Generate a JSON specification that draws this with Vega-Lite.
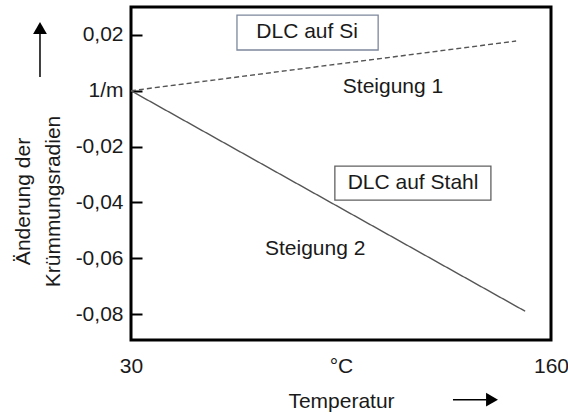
{
  "$schema": "https://vega.github.io/schema/vega-lite/v6.json",
  "width": 420,
  "height": 333,
  "autosize": {"type": "none"},
  "padding": {"left": 131, "top": 7, "right": 17, "bottom": 75},
  "background": "white",
  "config": {
    "view": {"stroke": "#000000", "strokeWidth": 3},
    "font": "Liberation Sans",
    "locale": {"number": {"decimal": ",", "thousands": ".", "grouping": [3], "currency": ["", " €"], "minus": "-"}}
  },
  "datasets": {
    "lines": [
      {"series": "DLC auf Si", "temp": 30, "value": 0},
      {"series": "DLC auf Si", "temp": 149.2, "value": 0.0178},
      {"series": "DLC auf Stahl", "temp": 30, "value": 0},
      {"series": "DLC auf Stahl", "temp": 152, "value": -0.079}
    ],
    "boxes": [
      {"label": "DLC auf Si", "temp": 62.8, "temp2": 106.5, "value": 0.0271, "value2": 0.0146},
      {"label": "DLC auf Stahl", "temp": 93.1, "temp2": 141.4, "value": -0.027, "value2": -0.0392}
    ],
    "labels": [
      {"label": "DLC auf Si", "temp": 84.5, "value": 0.021},
      {"label": "DLC auf Stahl", "temp": 117.3, "value": -0.0331},
      {"label": "Steigung 1", "temp": 111.1, "value": 0.00133},
      {"label": "Steigung 2", "temp": 87.0, "value": -0.0567}
    ]
  },
  "layer": [
    {
      "data": {"name": "lines"},
      "mark": {"type": "line", "color": "#555555", "strokeWidth": 1.4},
      "encoding": {
        "x": {
          "field": "temp", "type": "quantitative",
          "scale": {"domain": [30, 160], "nice": false, "zero": false},
          "axis": {
            "values": [30, 95, 160],
            "labelExpr": "datum.value === 95 ? '°C' : datum.label",
            "domain": false, "ticks": false, "tickSize": 0, "grid": false,
            "labelFlush": false, "labelOverlap": false,
            "labelPadding": 15, "labelFontSize": 21, "labelColor": "#1a1a1a", "labelFont": "Liberation Sans",
            "title": "Temperatur", "titleFontSize": 21, "titleFontWeight": "normal", "titleColor": "#1a1a1a", "titleFont": "Liberation Sans",
            "titleBaseline": "alphabetic", "titleX": 210, "titleY": 67, "titleAnchor": "middle"
          }
        },
        "y": {
          "field": "value", "type": "quantitative",
          "scale": {"domain": [-0.0893, 0.03], "nice": false, "zero": false},
          "axis": {
            "values": [0.02, 0, -0.02, -0.04, -0.06, -0.08],
            "format": ".2f",
            "labelExpr": "datum.value === 0 ? '1/m' : datum.label",
            "domain": false, "grid": false,
            "ticks": true, "tickSize": -11, "tickWidth": 2, "tickColor": "#000000",
            "labelOverlap": false, "labelPadding": 19, "labelFontSize": 21, "labelColor": "#1a1a1a", "labelFont": "Liberation Sans",
            "title": ["Änderung der", "Krümmungsradien"],
            "titleFontSize": 21, "titleFontWeight": "normal", "titleColor": "#1a1a1a", "titleFont": "Liberation Sans",
            "titleBaseline": "alphabetic", "titleLineHeight": 30, "titleAngle": -90,
            "titleX": -102, "titleY": 194, "titleAlign": "center"
          }
        },
        "strokeDash": {
          "field": "series", "type": "nominal",
          "scale": {"domain": ["DLC auf Si", "DLC auf Stahl"], "range": [[5, 3], [1, 0]]},
          "legend": null
        }
      }
    },
    {
      "data": {"name": "boxes"},
      "mark": {"type": "rect", "fill": "white", "strokeWidth": 1.3},
      "encoding": {
        "x": {"field": "temp", "type": "quantitative"},
        "x2": {"field": "temp2"},
        "y": {"field": "value", "type": "quantitative"},
        "y2": {"field": "value2"},
        "stroke": {
          "field": "label", "type": "nominal",
          "scale": {"domain": ["DLC auf Si", "DLC auf Stahl"], "range": ["#7d879c", "#606060"]},
          "legend": null
        }
      }
    },
    {
      "data": {"name": "labels"},
      "mark": {"type": "text", "fontSize": 21, "font": "Liberation Sans", "color": "#1a1a1a", "align": "center", "baseline": "middle"},
      "encoding": {
        "x": {"field": "temp", "type": "quantitative"},
        "y": {"field": "value", "type": "quantitative"},
        "text": {"field": "label"}
      }
    },
    {
      "data": {"values": [{"temp": 1.83, "value": 0.00491, "value2": 0.0212}]},
      "mark": {"type": "rule", "color": "#000000", "strokeWidth": 1.5, "clip": false},
      "encoding": {
        "x": {"field": "temp", "type": "quantitative"},
        "y": {"field": "value", "type": "quantitative"},
        "y2": {"field": "value2"}
      }
    },
    {
      "data": {"values": [{"temp": 1.83, "value": 0.02247}]},
      "mark": {"type": "point", "shape": "triangle-up", "filled": true, "color": "#000000", "opacity": 1, "size": 190, "clip": false},
      "encoding": {
        "x": {"field": "temp", "type": "quantitative"},
        "y": {"field": "value", "type": "quantitative"}
      }
    },
    {
      "data": {"values": [{"temp": 129.66, "temp2": 140.0, "value": -0.11068}]},
      "mark": {"type": "rule", "color": "#000000", "strokeWidth": 1.5, "clip": false},
      "encoding": {
        "x": {"field": "temp", "type": "quantitative"},
        "x2": {"field": "temp2"},
        "y": {"field": "value", "type": "quantitative"}
      }
    },
    {
      "data": {"values": [{"temp": 141.74, "value": -0.11068}]},
      "mark": {"type": "point", "shape": "triangle-right", "filled": true, "color": "#000000", "opacity": 1, "size": 190, "clip": false},
      "encoding": {
        "x": {"field": "temp", "type": "quantitative"},
        "y": {"field": "value", "type": "quantitative"}
      }
    }
  ]
}
